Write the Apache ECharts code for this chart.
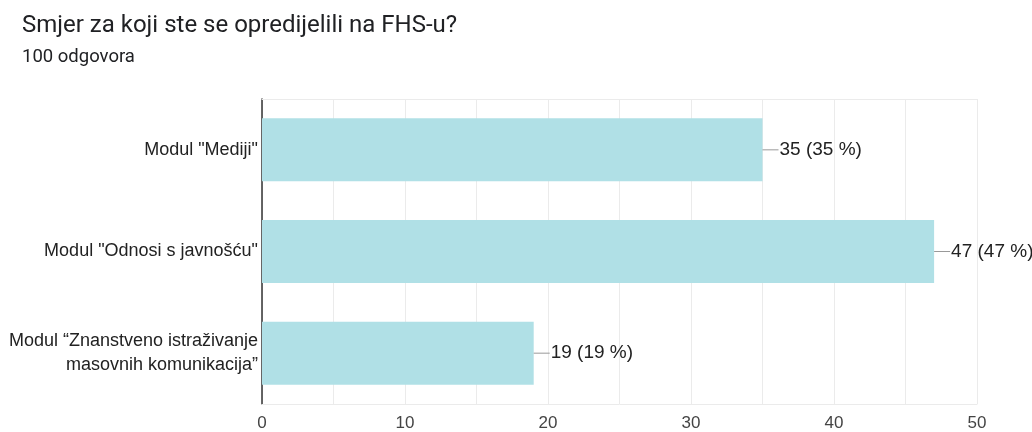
<!DOCTYPE html>
<html><head><meta charset="utf-8">
<script src="https://cdn.jsdelivr.net/npm/echarts@6/dist/echarts.min.js"></script>
<style>html,body{margin:0;padding:0;background:#fff}#c{width:1032px;height:432px}</style>
</head><body><div id="c"></div>
<script>
const titleText = 'Smjer za koji ste se opredijelili na FHS-u?';
const subtitleText = '100 odgovora';
const categories = ['Modul "Mediji"', 'Modul "Odnosi s javnošću"', 'Modul “Znanstveno istraživanje\nmasovnih komunikacija”'];
const values = [35, 47, 19];
const percents = [35, 47, 19];
const xTicks = [0, 10, 20, 30, 40, 50];

const FONT = '"Liberation Sans", Arial, sans-serif';
const chart = echarts.init(document.getElementById('c'));
chart.setOption({
  animation: false,
  backgroundColor: '#fff',
  title: [
    {text: titleText, left: 17, top: 9, padding: 5, textStyle: {fontFamily: 'Roboto', fontSize: 24, fontWeight: 'normal', color: '#202124'}},
    {text: subtitleText, left: 17, top: 43, padding: 5, textStyle: {fontFamily: 'Roboto', fontSize: 18.5, fontWeight: 'normal', color: '#202124'}}
  ],
  grid: {left: 262, right: 55, top: 99, bottom: 26, containLabel: false},
  xAxis: [{
    type: 'value', min: xTicks[0], max: xTicks[xTicks.length - 1], interval: 5,
    axisLine: {show: true, lineStyle: {color: '#ebebeb', width: 1}}, axisTick: {show: false},
    splitLine: {show: true, lineStyle: {color: '#ebebeb', width: 1}},
    axisLabel: {
      fontFamily: FONT, fontSize: 17, color: '#444', margin: 11,
      formatter: v => xTicks.includes(v) ? String(v) : ''
    }
  }, {
    type: 'value', position: 'top', min: xTicks[0], max: xTicks[xTicks.length - 1], interval: 5,
    axisLine: {show: true, lineStyle: {color: '#ebebeb', width: 1}}, axisTick: {show: false},
    splitLine: {show: false}, axisLabel: {show: false}
  }],
  yAxis: {
    type: 'category', data: categories, inverse: true,
    axisLine: {show: true, lineStyle: {color: '#333', width: 1.5}},
    axisTick: {show: false},
    axisLabel: {fontFamily: FONT, fontSize: 18, color: '#222', margin: 4, align: 'right', lineHeight: 24}
  },
  series: [{
    type: 'bar', data: values, barCategoryGap: '38%', xAxisIndex: 0,
    itemStyle: {color: '#b0e0e6'},
    label: {
      show: true, position: 'right', distance: 0,
      formatter: p => '{l|}{t|' + values[p.dataIndex] + ' (' + percents[p.dataIndex] + ' %)}',
      rich: {
        l: {width: 16, height: 1, backgroundColor: '#999', verticalAlign: 'middle'},
        t: {fontFamily: FONT, fontSize: 19, color: '#222', padding: [0, 0, 0, 1]}
      }
    }
  }]
});
</script></body></html>
